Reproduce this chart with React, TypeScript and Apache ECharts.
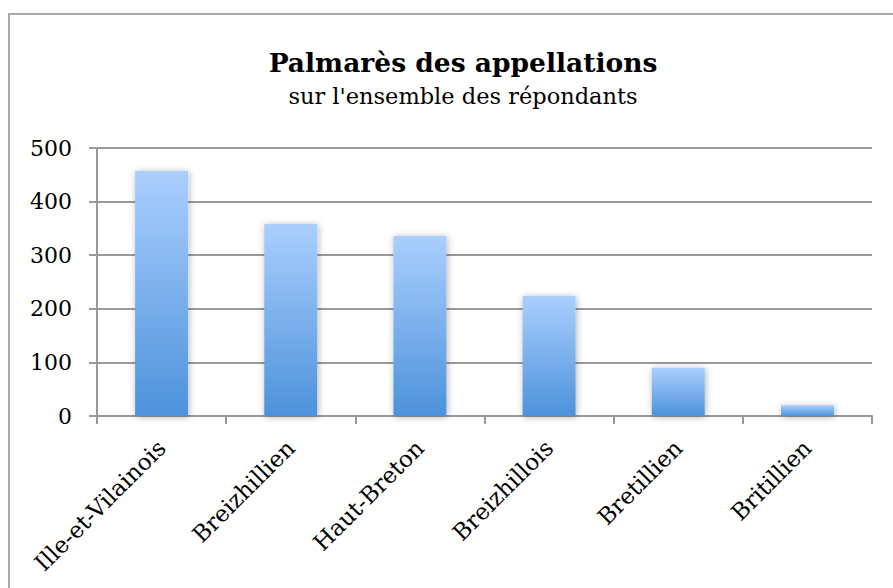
import React, { useEffect, useRef } from "react";
import * as echarts from "echarts";

const categories = ["Ille-et-Vilainois", "Breizhillien", "Haut-Breton", "Breizhillois", "Bretillien", "Britillien"];
const values = [457, 358, 336, 224, 90, 20];
const yTicks = [0, 100, 200, 300, 400, 500];

export default function App() {
  const ref = useRef<HTMLDivElement>(null);
  useEffect(() => {
    if (!ref.current) return;
    const chart = echarts.init(ref.current, null, { renderer: "svg" });
    chart.setOption({
      animation: false,
      backgroundColor: "#ffffff",
      title: {
        text: "Palmarès des appellations",
        subtext: "sur l'ensemble des répondants",
        left: 458,
        textAlign: "center",
        top: 44,
        itemGap: 8,
        textStyle: { fontFamily: "DejaVu Serif", fontWeight: "bold", fontSize: 26.5, color: "#000" },
        subtextStyle: { fontFamily: "DejaVu Serif", fontSize: 22.5, color: "#000" },
      },
      graphic: [
        {
          type: "rect",
          shape: { x: 9, y: 14, width: 900, height: 600 },
          style: { fill: "none", stroke: "#a8a8a8", lineWidth: 2 },
          silent: true,
        },
      ],
      grid: { left: 97, right: 21, top: 148, bottom: 172, containLabel: false },
      xAxis: {
        type: "category",
        data: categories,
        axisLine: { show: true, lineStyle: { color: "#9a9a9a", width: 2 } },
        axisTick: { show: true, length: 8, lineStyle: { color: "#9a9a9a", width: 2 } },
        axisLabel: {
          rotate: 45,
          margin: 28,
          interval: 0,
          fontFamily: "DejaVu Serif",
          fontSize: 23,
          color: "#000",
        },
      },
      yAxis: {
        type: "value",
        min: yTicks[0],
        max: yTicks[yTicks.length - 1],
        interval: 100,
        axisLine: { show: true, lineStyle: { color: "#9a9a9a", width: 2 } },
        axisTick: { show: true, length: 8, lineStyle: { color: "#9a9a9a", width: 2 } },
        splitLine: { show: true, lineStyle: { color: "#9a9a9a", width: 2 } },
        axisLabel: {
          margin: 25,
          fontFamily: "DejaVu Serif",
          fontSize: 22,
          color: "#000",
        },
      },
      series: [
        {
          type: "bar",
          data: values,
          barWidth: "41%",
          itemStyle: {
            color: new echarts.graphic.LinearGradient(0, 0, 0, 1, [
              { offset: 0, color: "#aacffe" },
              { offset: 1, color: "#4d92db" },
            ]),
            shadowBlur: 7,
            shadowColor: "rgba(0,0,0,0.3)",
            shadowOffsetX: 1,
            shadowOffsetY: 1,
          },
        },
      ],
    });
    return () => chart.dispose();
  }, []);
  return <div ref={ref} style={{ position: "fixed", left: 0, top: 0, width: 893, height: 588 }} />;
}
